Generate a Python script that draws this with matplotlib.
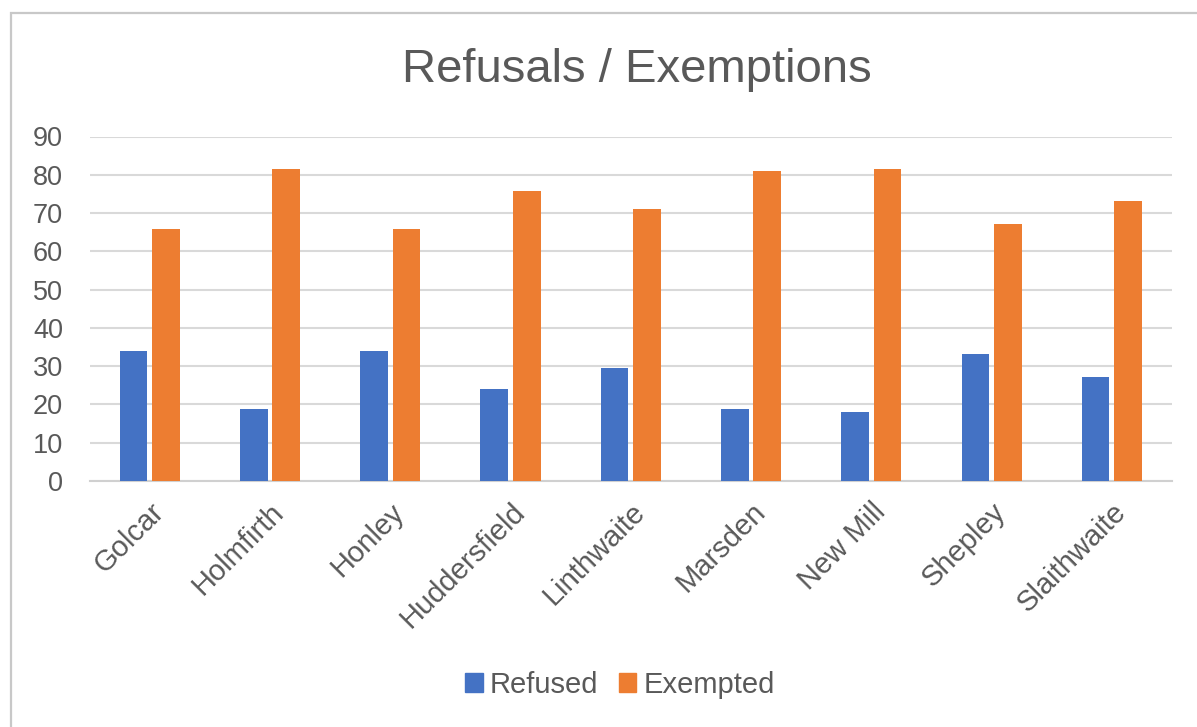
import matplotlib
matplotlib.use("Agg")
import matplotlib.pyplot as plt
from matplotlib.patches import Rectangle, Patch
import numpy as np

plt.rcParams['font.family'] = ['Liberation Sans', 'DejaVu Sans']

towns = ["Golcar", "Holmfirth", "Honley", "Huddersfield", "Linthwaite",
         "Marsden", "New Mill", "Shepley", "Slaithwaite"]
refused = [34.0, 18.8, 34.0, 24.1, 29.4, 18.8, 18.1, 33.3, 27.3]
exempted = [65.9, 81.5, 65.9, 75.7, 71.1, 80.9, 81.5, 67.2, 73.1]
y_ticks = [0, 10, 20, 30, 40, 50, 60, 70, 80, 90]

BLUE = "#4472C4"
ORANGE = "#ED7D31"
TEXT = "#595959"
GRID = "#d9d9d9"

W, H = 1197, 727
fig = plt.figure(figsize=(W / 100, H / 100), dpi=100)
fig.patch.set_facecolor("white")

# chart-area border (runs off the right and bottom edges)
fig.patches.append(Rectangle((10.5 / W, -0.2), 1.3, 1.2 - 13.5 / H,
                             transform=fig.transFigure, fill=False,
                             edgecolor="#c8c8c8", linewidth=1.6))

ax = fig.add_axes([89.5 / W, (H - 481) / H, (1172 - 89.5) / W, (481 - 136.5) / H])
x = np.arange(len(towns))
bw = 0.23
off = 0.135
ax.bar(x - off, refused, width=bw, color=BLUE, label="Refused", zorder=3)
ax.bar(x + off, exempted, width=bw, color=ORANGE, label="Exempted", zorder=3)

ax.set_xlim(-0.5, len(towns) - 0.5)
ax.set_ylim(0, 90)
ax.set_yticks(y_ticks)
ax.yaxis.grid(True, color=GRID, linewidth=1.5, zorder=0)
ax.set_axisbelow(True)
for s in ["top", "right", "left"]:
    ax.spines[s].set_visible(False)
ax.spines["bottom"].set_color("#d0d0d0")
ax.spines["bottom"].set_linewidth(1.5)
ax.tick_params(axis="y", length=0, pad=19, labelsize=19.5, labelcolor=TEXT)
ax.tick_params(axis="x", length=0, pad=12, labelsize=21, labelcolor=TEXT)
ax.set_xticks(x)
ax.set_xticklabels(towns, rotation=45, ha="right", va="top", rotation_mode="anchor")

fig.text(637 / W, 1 - 82 / H, "Refusals / Exemptions", ha="center", va="baseline",
         fontsize=34, color=TEXT)

handles = [Patch(color=BLUE, label="Refused"), Patch(color=ORANGE, label="Exempted")]
fig.legend(handles=handles, loc="center", bbox_to_anchor=(620 / W, 1 - 685 / H),
           ncol=2, frameon=False, fontsize=21, labelcolor=TEXT,
           handlelength=0.6, handleheight=0.6, handletextpad=0.25,
           columnspacing=0.7, borderpad=0)

fig.savefig("out.png", dpi=100, facecolor="white")
